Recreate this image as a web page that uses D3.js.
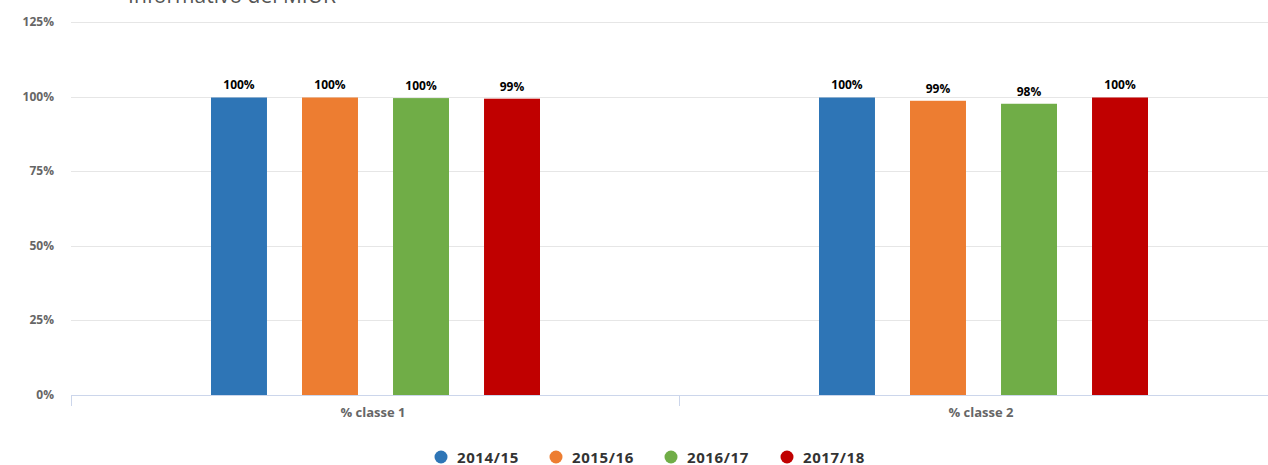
<!DOCTYPE html>
<html>
<head>
<meta charset="utf-8">
<script src="https://cdn.jsdelivr.net/npm/d3@7"></script>
<style>
  body { margin: 0; background: #fff; overflow: hidden; }
  text { font-family: "Open Sans", "DejaVu Sans", sans-serif; }
</style>
</head>
<body>
<div id="chart"></div>
<script>
// data
var categories = ["% classe 1", "% classe 2"];
var seriesNames = ["2014/15", "2015/16", "2016/17", "2017/18"];
var seriesColors = ["#2e75b6", "#ed7d31", "#70ad47", "#c00000"];
var values = [
    [99.7, 99.7],   // 2014/15
    [99.7, 98.6],   // 2015/16
    [99.5, 97.6],   // 2016/17
    [99.3, 99.7]    // 2017/18
];
var valueLabels = [
    ["100%", "100%"],
    ["100%", "99%"],
    ["100%", "98%"],
    ["99%", "100%"]
];
var yTicks = [0, 25, 50, 75, 100, 125];

var W = 1268, H = 465;
var margin = { top: 22, left: 71, bottom: 70 },
    plotWidth = 1216,
    plotHeight = 395 - margin.top;

var svg = d3.select("#chart")
    .append("svg")
    .attr("width", W)
    .attr("height", H);

// title, mostly cut off at the top (as in the original)
svg.append("text")
    .attr("x", 232)
    .attr("y", 3)
    .attr("text-anchor", "middle")
    .style("font-size", "21px")
    .style("fill", "#555")
    .text("Informativo del MIUR");

var g = svg.append("g")
    .attr("transform", "translate(" + margin.left + "," + margin.top + ")");

var x = d3.scaleBand()
    .domain(categories)
    .range([0, plotWidth]);

var y = d3.scaleLinear()
    .domain([0, 125])
    .range([plotHeight, 0]);

// gridlines
g.selectAll("line.grid")
    .data(yTicks.filter(d => d > 0))
    .join("line")
    .attr("class", "grid")
    .attr("x1", 0)
    .attr("x2", W)
    .attr("y1", d => Math.round(y(d)) + 0.5)
    .attr("y2", d => Math.round(y(d)) + 0.5)
    .style("stroke", "#e6e6e6");

// y axis labels
g.selectAll("text.ytick")
    .data(yTicks)
    .join("text")
    .attr("class", "ytick")
    .attr("x", -17)
    .attr("y", d => y(d) + 4)
    .attr("text-anchor", "end")
    .style("font-size", "12px")
    .style("font-weight", "bold")
    .style("fill", "#666")
    .text(d => d + "%");

// x axis
var xAxis = g.append("g")
    .attr("transform", "translate(0," + plotHeight + ")");
xAxis.append("line")
    .attr("x1", 0).attr("x2", W)
    .attr("y1", 0.5).attr("y2", 0.5)
    .style("stroke", "#ccd6eb");
xAxis.selectAll("line.xtick")
    .data(categories)
    .join("line")
    .attr("class", "xtick")
    .attr("x1", d => x(d) + 0.5)
    .attr("x2", d => x(d) + 0.5)
    .attr("y1", 0)
    .attr("y2", 11)
    .style("stroke", "#ccd6eb");
xAxis.selectAll("text")
    .data(categories)
    .join("text")
    .attr("x", d => x(d) + x.bandwidth() / 2 - 2)
    .attr("y", 22)
    .attr("text-anchor", "middle")
    .style("font-size", "13px")
    .style("font-weight", "bold")
    .style("fill", "#666")
    .text(d => d);

// inner band for the series
var xInner = d3.scaleBand()
    .domain(seriesNames)
    .range([140, 469])
    .paddingInner(0.385);

seriesNames.forEach(function (name, i) {
    var rows = categories.map((c, j) => ({ cat: c, v: values[i][j], label: valueLabels[i][j] }));

    g.selectAll("rect.s" + i)
        .data(rows)
        .join("rect")
        .attr("class", "s" + i)
        .attr("x", d => x(d.cat) + xInner(name))
        .attr("width", xInner.bandwidth())
        .attr("y", d => y(d.v))
        .attr("height", d => plotHeight - y(d.v))
        .style("fill", seriesColors[i]);

    g.selectAll("text.l" + i)
        .data(rows)
        .join("text")
        .attr("class", "l" + i)
        .attr("x", d => x(d.cat) + xInner(name) + xInner.bandwidth() / 2)
        .attr("y", d => y(d.v) - 8)
        .attr("text-anchor", "middle")
        .style("font-size", "12px")
        .style("font-weight", "bold")
        .style("fill", "#000")
        .style("paint-order", "stroke")
        .style("stroke", "#fff")
        .style("stroke-width", "2px")
        .text(d => d.label);
});

// legend
var legendX = [441, 556, 671, 787];
var legend = svg.selectAll("g.legend")
    .data(seriesNames)
    .join("g")
    .attr("class", "legend")
    .attr("transform", (d, i) => "translate(" + legendX[i] + ",457)");
legend.append("circle")
    .attr("r", 6.5)
    .style("fill", (d, i) => seriesColors[i]);
legend.append("text")
    .attr("x", 16)
    .attr("y", 5.5)
    .style("font-size", "15px")
    .style("font-weight", "bold")
    .style("letter-spacing", "0.6px")
    .style("fill", "#333")
    .text(d => d);
</script>
</body>
</html>
